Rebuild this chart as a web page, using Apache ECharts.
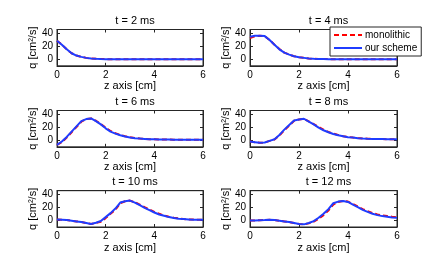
<!DOCTYPE html>
<html><head><meta charset="utf-8">
<script src="https://cdn.jsdelivr.net/npm/echarts@6/dist/echarts.min.js"></script>
<style>html,body{margin:0;padding:0;background:#fff}#c{width:438px;height:271px}</style>
</head><body><div id="c"></div>
<script>
const zAxis = [0,0.2,0.4,0.6,0.8,1.0,1.2,1.4,1.6,1.8,2.0,2.2,2.4,2.6,2.8,3.0,3.2,3.4,3.6,3.8,4.0,4.2,4.4,4.6,4.8,5.0,5.2,5.4,5.6,5.8,6.0];
const titles = ['t = 2 ms','t = 4 ms','t = 6 ms','t = 8 ms','t = 10 ms','t = 12 ms'];
const xTicks = [0,2,4,6];
const yTicks = [0,20,40];

const ours_t2  = [28,22,15,9,5.5,3.5,2,1,0.5,0.2,0.1,0,0,0,0,0,0,0,0,0,0,0,0,0,0,0,0,0,0,0,0];
const mono_t2  = [28,22,15,9,5.5,3.5,2,1,0.6,0.3,0.1,0,0,0,0,0,0,0,0,0,0,0,0,0,0,0,0,0,0,0,0];
const ours_t4  = [34,35.5,35.5,35,29,22,15,10,7,4.5,3,2,1,0.5,0.3,0.2,0.1,0,0,0,0,0,0,0,0,0,0,0,0,0,0];
const mono_t4  = [32,35,35.5,35,29,22,15.5,10,7,4.5,3,2,1.2,0.6,0.3,0.2,0.1,0,0,0,0,0,0,0,0,0,0,0,0,0,0];
const ours_t6  = [-7,-2,5,13,21,29,32,33,29,24,18,13,10,7.5,5.5,4,3,2.5,2,1.5,1.5,1,1,1,0.8,0.8,0.7,0.6,0.6,0.5,0.5];
const mono_t6  = [-7,-3,4,12,20,28,32,33,29.5,24.5,19,14,10.5,8,6,4.5,3.5,2.5,2,1.5,1.5,1.2,1,1,0.8,0.8,0.7,0.6,0.6,0.5,0.5];
const ours_t8  = [-2,-3,-4,-3.5,-1,1.5,8,16,23,30,31.5,32.5,28,24,19,15,12,9.5,7.5,6,4.5,4,3,2.5,2.2,2,1.8,1.7,1.6,1.5,1.5];
const mono_t8  = [-2,-3,-4,-3.5,-1,1,7,15,22,29.5,31.5,32.5,28.5,24.5,20,16,12.5,10,8,6,5,4,3.2,2.7,2.3,2,1.8,1.7,1.6,1.5,1.5];
const ours_t10 = [1.5,1,0.5,-0.5,-1.5,-2.5,-4,-5.5,-3.5,-1,5,11,18,27,29,30,27,23,19,15.5,12,9,7,5,3.5,2.5,2,1.5,1,1,1];
const mono_t10 = [1.5,1,0.5,-0.5,-1.5,-2.5,-4,-5.5,-4,-2,3.5,10,16,26,29,30,27.5,24,20,16.5,13,10,7.5,5.5,4,3,2,1.5,1.2,1,1];
const ours_t12 = [0,0,0.3,0.5,0.8,0.5,-0.5,-1.5,-2.5,-4,-5.5,-6,-4,-1,4,10,17,26,28.5,29.5,28,24,20,16,13,10,8,6.5,5.5,4.5,4];
const mono_t12 = [0,0,0.3,0.5,0.8,0.5,-0.5,-1.5,-2.5,-4,-5.5,-6,-4.5,-2,2.5,8,15,24,28,29.5,28.5,25,21,17,14,11,9,7.5,6.5,5.5,5];

const ours = [ours_t2,ours_t4,ours_t6,ours_t8,ours_t10,ours_t12];
const mono = [mono_t2,mono_t4,mono_t6,mono_t8,mono_t10,mono_t12];

const FONT = 'Liberation Sans, Arial, sans-serif';
const lefts = [57, 250];
const widths = [146, 147];
const tops = [29.5, 110.5, 190.7];
const H = 36.3;

const grids=[], xAxes=[], yAxes=[], series=[], titleOpts=[];
for (let i=0;i<6;i++){
  const c=i%2, r=Math.floor(i/2);
  grids.push({left:lefts[c], top:tops[r], width:widths[c], height:H, show:true, borderColor:'#262626', borderWidth:1, backgroundColor:'transparent'});
  titleOpts.push({text:titles[i], left:lefts[c]+widths[c]/2, top:tops[r]-19, textAlign:'center',
    textStyle:{fontFamily:FONT, fontSize:11, fontWeight:'normal', color:'#000'}});
  const axLine={show:true, onZero:false, lineStyle:{color:'#262626', width:1}};
  xAxes.push({gridIndex:i, type:'value', min:0, max:6, interval:2,
    axisLine:axLine, axisTick:{show:true, inside:true, length:3, lineStyle:{color:'#262626'}},
    axisLabel:{fontFamily:FONT, fontSize:10, color:'#000', margin:4},
    splitLine:{show:false},
    name:'z axis [cm]', nameLocation:'middle', nameGap:15,
    nameTextStyle:{fontFamily:FONT, fontSize:11, color:'#000'}});
  xAxes.push({gridIndex:i, type:'value', min:0, max:6, interval:2, position:'top',
    axisLine:axLine, axisTick:{show:true, inside:true, length:3, lineStyle:{color:'#262626'}},
    axisLabel:{show:false}, splitLine:{show:false}});
  yAxes.push({gridIndex:i, type:'value', min:-10, max:45,
    axisLine:axLine,
    axisTick:{show:true, inside:true, length:3, customValues:yTicks, lineStyle:{color:'#262626'}},
    axisLabel:{fontFamily:FONT, fontSize:10, color:'#000', margin:4, customValues:yTicks},
    splitLine:{show:false},
    name:'q [cm²/s]', nameLocation:'middle', nameGap:19, nameRotate:90,
    nameTextStyle:{fontFamily:FONT, fontSize:11, color:'#000'}});
  yAxes.push({gridIndex:i, type:'value', min:-10, max:45, position:'right',
    axisLine:axLine,
    axisTick:{show:true, inside:true, length:3, customValues:yTicks, lineStyle:{color:'#262626'}},
    axisLabel:{show:false, customValues:yTicks}, splitLine:{show:false}});
  series.push({name:'monolithic', type:'line', xAxisIndex:2*i, yAxisIndex:2*i, symbol:'none', silent:true,
    data: zAxis.map((z,k)=>[z, mono[i][k]]),
    lineStyle:{color:'#ff0000', width:2, type:[5,3]}, itemStyle:{color:'#ff0000'}, z:2});
  series.push({name:'our scheme', type:'line', xAxisIndex:2*i, yAxisIndex:2*i, symbol:'none', silent:true,
    data: zAxis.map((z,k)=>[z, ours[i][k]]),
    lineStyle:{color:'#1f3cff', width:2}, itemStyle:{color:'#1f3cff'}, z:3});
}

const chart = echarts.init(document.getElementById('c'), null, {renderer:'canvas'});
chart.setOption({
  animation:false,
  backgroundColor:'#fff',
  title:titleOpts,
  grid:grids, xAxis:xAxes, yAxis:yAxes, series:series,
  legend:{data:['monolithic','our scheme'], orient:'vertical', left:330, top:27,
    backgroundColor:'#fff', borderColor:'#262626', borderWidth:1, padding:[3,4,3,3],
    itemWidth:28, itemHeight:10, itemGap:3,
    itemStyle:{opacity:0},
    textStyle:{fontFamily:FONT, fontSize:10, color:'#000', padding:[0,0,0,-2]}}
});
</script></body></html>
